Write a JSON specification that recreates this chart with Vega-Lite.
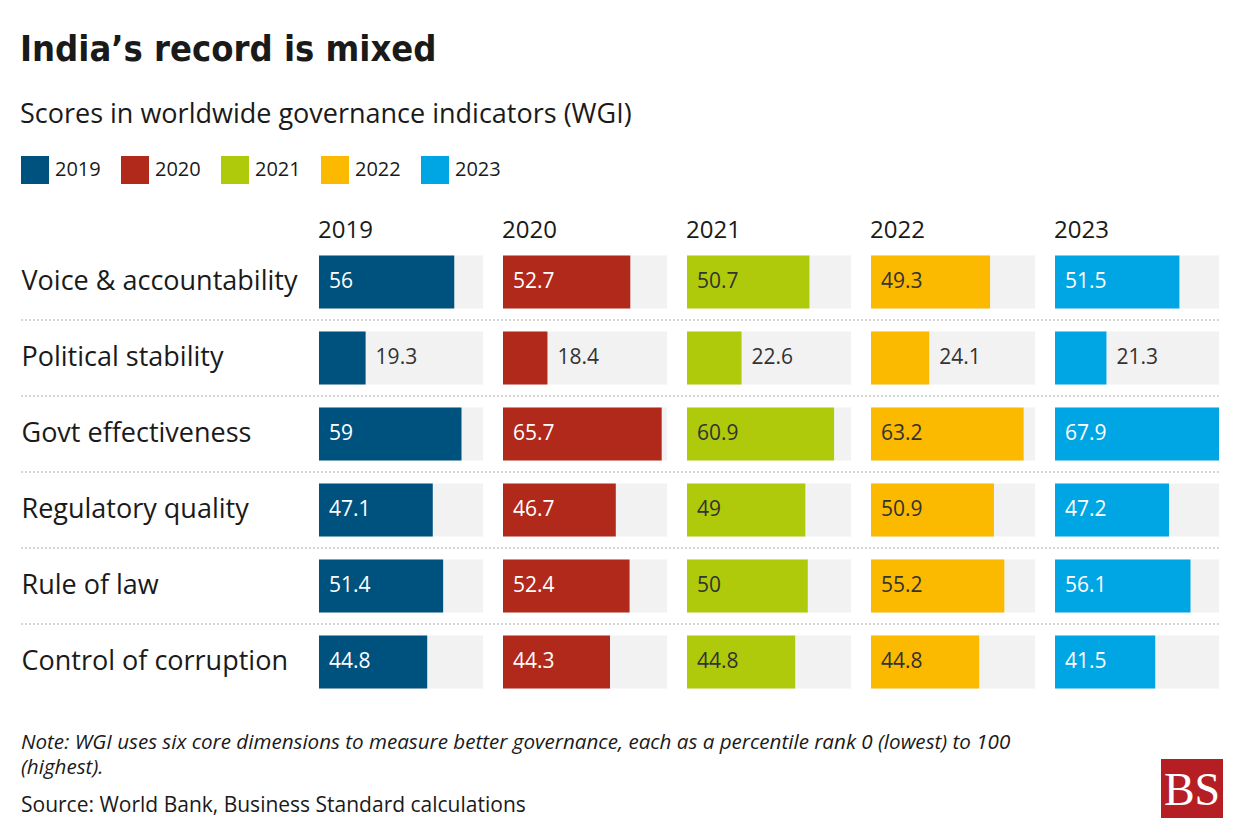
{
  "$schema": "https://vega.github.io/schema/vega-lite/v6.json",
  "padding": {"left": 20, "top": 32, "right": 0, "bottom": 10},
  "background": "white",
  "title": {
    "text": "India’s record is mixed",
    "subtitle": "Scores in worldwide governance indicators (WGI)",
    "anchor": "start",
    "font": "'DejaVu Sans Condensed', Roboto, sans-serif",
    "fontSize": 36,
    "fontWeight": "bold",
    "color": "#1a1a1a",
    "subtitleFont": "Open Sans",
    "subtitleFontSize": 27,
    "subtitleFontWeight": 500,
    "subtitleColor": "#1a1a1a",
    "subtitlePadding": 33,
    "offset": 27
  },
  "datasets": {
    "wgi": [
      {"indicator": "Voice & accountability", "year": "2019", "score": 56},
      {"indicator": "Voice & accountability", "year": "2020", "score": 52.7},
      {"indicator": "Voice & accountability", "year": "2021", "score": 50.7},
      {"indicator": "Voice & accountability", "year": "2022", "score": 49.3},
      {"indicator": "Voice & accountability", "year": "2023", "score": 51.5},
      {"indicator": "Political stability", "year": "2019", "score": 19.3},
      {"indicator": "Political stability", "year": "2020", "score": 18.4},
      {"indicator": "Political stability", "year": "2021", "score": 22.6},
      {"indicator": "Political stability", "year": "2022", "score": 24.1},
      {"indicator": "Political stability", "year": "2023", "score": 21.3},
      {"indicator": "Govt effectiveness", "year": "2019", "score": 59},
      {"indicator": "Govt effectiveness", "year": "2020", "score": 65.7},
      {"indicator": "Govt effectiveness", "year": "2021", "score": 60.9},
      {"indicator": "Govt effectiveness", "year": "2022", "score": 63.2},
      {"indicator": "Govt effectiveness", "year": "2023", "score": 67.9},
      {"indicator": "Regulatory quality", "year": "2019", "score": 47.1},
      {"indicator": "Regulatory quality", "year": "2020", "score": 46.7},
      {"indicator": "Regulatory quality", "year": "2021", "score": 49},
      {"indicator": "Regulatory quality", "year": "2022", "score": 50.9},
      {"indicator": "Regulatory quality", "year": "2023", "score": 47.2},
      {"indicator": "Rule of law", "year": "2019", "score": 51.4},
      {"indicator": "Rule of law", "year": "2020", "score": 52.4},
      {"indicator": "Rule of law", "year": "2021", "score": 50},
      {"indicator": "Rule of law", "year": "2022", "score": 55.2},
      {"indicator": "Rule of law", "year": "2023", "score": 56.1},
      {"indicator": "Control of corruption", "year": "2019", "score": 44.8},
      {"indicator": "Control of corruption", "year": "2020", "score": 44.3},
      {"indicator": "Control of corruption", "year": "2021", "score": 44.8},
      {"indicator": "Control of corruption", "year": "2022", "score": 44.8},
      {"indicator": "Control of corruption", "year": "2023", "score": 41.5}
    ]
  },
  "data": {"name": "wgi"},
  "spacing": 33,
  "vconcat": [
    {
      "hconcat": [
        {
          "width": 298, "height": 456,
          "transform": [{"filter": "datum.year == '2019' && datum.indicator != 'Voice & accountability'"}],
          "mark": {"type": "rule", "color": "#d6d6d6", "strokeWidth": 2, "strokeDash": [2, 2], "yOffset": -38},
          "encoding": {
            "y": {"field": "indicator", "type": "nominal",
              "scale": {"domain": ["Voice & accountability", "Political stability", "Govt effectiveness", "Regulatory quality", "Rule of law", "Control of corruption"], "paddingInner": 0.3, "paddingOuter": 0.15},
              "axis": {"orient": "left", "title": null, "ticks": false, "domain": false, "labelAlign": "left", "labelBaseline": "middle", "labelPadding": 0, "labelFontSize": 27, "labelLimit": 0, "labelColor": "#1a1a1a", "labelFont": "Open Sans"}}
          }
        },
        {
          "width": 184, "height": 456,
          "title": {"text": "2019"},
          "transform": [{"filter": "datum.year == '2019'"}],
          "encoding": {"y": {"field": "indicator", "type": "nominal", "scale": {"domain": ["Voice & accountability", "Political stability", "Govt effectiveness", "Regulatory quality", "Rule of law", "Control of corruption"], "paddingInner": 0.3, "paddingOuter": 0.15}, "axis": null}},
          "layer": [
            {"mark": {"type": "bar", "color": "#f2f2f2"}, "encoding": {"x": {"datum": 67.9, "type": "quantitative", "scale": {"domain": [0, 76.18], "nice": false}, "axis": null}}},
            {"mark": "bar", "encoding": {"x": {"field": "score", "type": "quantitative"}, "color": {"field": "year", "type": "nominal"}}},
            {"transform": [{"filter": "datum.indicator != 'Voice & accountability'"}], "mark": {"type": "rule", "color": "#d6d6d6", "strokeWidth": 2, "strokeDash": [2, 2], "yOffset": -38}, "encoding": {}},
            {"transform": [{"filter": "datum.score >= 30"}], "mark": {"type": "text", "align": "left", "baseline": "middle", "dx": 10, "fontSize": 21, "color": "white"}, "encoding": {"x": {"datum": 0}, "text": {"field": "score", "type": "quantitative"}}},
            {"transform": [{"filter": "datum.score < 30"}], "mark": {"type": "text", "align": "left", "baseline": "middle", "dx": 10, "fontSize": 21, "color": "#333333"}, "encoding": {"x": {"field": "score", "type": "quantitative"}, "text": {"field": "score", "type": "quantitative"}}}
          ]
        },
        {
          "width": 184, "height": 456,
          "title": {"text": "2020"},
          "transform": [{"filter": "datum.year == '2020'"}],
          "encoding": {"y": {"field": "indicator", "type": "nominal", "scale": {"domain": ["Voice & accountability", "Political stability", "Govt effectiveness", "Regulatory quality", "Rule of law", "Control of corruption"], "paddingInner": 0.3, "paddingOuter": 0.15}, "axis": null}},
          "layer": [
            {"mark": {"type": "bar", "color": "#f2f2f2"}, "encoding": {"x": {"datum": 67.9, "type": "quantitative", "scale": {"domain": [0, 76.18], "nice": false}, "axis": null}}},
            {"mark": "bar", "encoding": {"x": {"field": "score", "type": "quantitative"}, "color": {"field": "year", "type": "nominal"}}},
            {"transform": [{"filter": "datum.indicator != 'Voice & accountability'"}], "mark": {"type": "rule", "color": "#d6d6d6", "strokeWidth": 2, "strokeDash": [2, 2], "yOffset": -38}, "encoding": {}},
            {"transform": [{"filter": "datum.score >= 30"}], "mark": {"type": "text", "align": "left", "baseline": "middle", "dx": 10, "fontSize": 21, "color": "white"}, "encoding": {"x": {"datum": 0}, "text": {"field": "score", "type": "quantitative"}}},
            {"transform": [{"filter": "datum.score < 30"}], "mark": {"type": "text", "align": "left", "baseline": "middle", "dx": 10, "fontSize": 21, "color": "#333333"}, "encoding": {"x": {"field": "score", "type": "quantitative"}, "text": {"field": "score", "type": "quantitative"}}}
          ]
        },
        {
          "width": 184, "height": 456,
          "title": {"text": "2021"},
          "transform": [{"filter": "datum.year == '2021'"}],
          "encoding": {"y": {"field": "indicator", "type": "nominal", "scale": {"domain": ["Voice & accountability", "Political stability", "Govt effectiveness", "Regulatory quality", "Rule of law", "Control of corruption"], "paddingInner": 0.3, "paddingOuter": 0.15}, "axis": null}},
          "layer": [
            {"mark": {"type": "bar", "color": "#f2f2f2"}, "encoding": {"x": {"datum": 67.9, "type": "quantitative", "scale": {"domain": [0, 76.18], "nice": false}, "axis": null}}},
            {"mark": "bar", "encoding": {"x": {"field": "score", "type": "quantitative"}, "color": {"field": "year", "type": "nominal"}}},
            {"transform": [{"filter": "datum.indicator != 'Voice & accountability'"}], "mark": {"type": "rule", "color": "#d6d6d6", "strokeWidth": 2, "strokeDash": [2, 2], "yOffset": -38}, "encoding": {}},
            {"transform": [{"filter": "datum.score >= 30"}], "mark": {"type": "text", "align": "left", "baseline": "middle", "dx": 10, "fontSize": 21, "color": "#333333"}, "encoding": {"x": {"datum": 0}, "text": {"field": "score", "type": "quantitative"}}},
            {"transform": [{"filter": "datum.score < 30"}], "mark": {"type": "text", "align": "left", "baseline": "middle", "dx": 10, "fontSize": 21, "color": "#333333"}, "encoding": {"x": {"field": "score", "type": "quantitative"}, "text": {"field": "score", "type": "quantitative"}}}
          ]
        },
        {
          "width": 184, "height": 456,
          "title": {"text": "2022"},
          "transform": [{"filter": "datum.year == '2022'"}],
          "encoding": {"y": {"field": "indicator", "type": "nominal", "scale": {"domain": ["Voice & accountability", "Political stability", "Govt effectiveness", "Regulatory quality", "Rule of law", "Control of corruption"], "paddingInner": 0.3, "paddingOuter": 0.15}, "axis": null}},
          "layer": [
            {"mark": {"type": "bar", "color": "#f2f2f2"}, "encoding": {"x": {"datum": 67.9, "type": "quantitative", "scale": {"domain": [0, 76.18], "nice": false}, "axis": null}}},
            {"mark": "bar", "encoding": {"x": {"field": "score", "type": "quantitative"}, "color": {"field": "year", "type": "nominal"}}},
            {"transform": [{"filter": "datum.indicator != 'Voice & accountability'"}], "mark": {"type": "rule", "color": "#d6d6d6", "strokeWidth": 2, "strokeDash": [2, 2], "yOffset": -38}, "encoding": {}},
            {"transform": [{"filter": "datum.score >= 30"}], "mark": {"type": "text", "align": "left", "baseline": "middle", "dx": 10, "fontSize": 21, "color": "#333333"}, "encoding": {"x": {"datum": 0}, "text": {"field": "score", "type": "quantitative"}}},
            {"transform": [{"filter": "datum.score < 30"}], "mark": {"type": "text", "align": "left", "baseline": "middle", "dx": 10, "fontSize": 21, "color": "#333333"}, "encoding": {"x": {"field": "score", "type": "quantitative"}, "text": {"field": "score", "type": "quantitative"}}}
          ]
        },
        {
          "width": 164, "height": 456,
          "title": {"text": "2023"},
          "transform": [{"filter": "datum.year == '2023'"}],
          "encoding": {"y": {"field": "indicator", "type": "nominal", "scale": {"domain": ["Voice & accountability", "Political stability", "Govt effectiveness", "Regulatory quality", "Rule of law", "Control of corruption"], "paddingInner": 0.3, "paddingOuter": 0.15}, "axis": null}},
          "layer": [
            {"mark": {"type": "bar", "color": "#f2f2f2"}, "encoding": {"x": {"datum": 67.9, "type": "quantitative", "scale": {"domain": [0, 67.9], "nice": false}, "axis": null}}},
            {"mark": "bar", "encoding": {"x": {"field": "score", "type": "quantitative"}, "color": {"field": "year", "type": "nominal"}}},
            {"transform": [{"filter": "datum.indicator != 'Voice & accountability'"}], "mark": {"type": "rule", "color": "#d6d6d6", "strokeWidth": 2, "strokeDash": [2, 2], "yOffset": -38}, "encoding": {}},
            {"transform": [{"filter": "datum.score >= 30"}], "mark": {"type": "text", "align": "left", "baseline": "middle", "dx": 10, "fontSize": 21, "color": "white"}, "encoding": {"x": {"datum": 0}, "text": {"field": "score", "type": "quantitative"}}},
            {"transform": [{"filter": "datum.score < 30"}], "mark": {"type": "text", "align": "left", "baseline": "middle", "dx": 10, "fontSize": 21, "color": "#333333"}, "encoding": {"x": {"field": "score", "type": "quantitative"}, "text": {"field": "score", "type": "quantitative"}}}
          ]
        }
      ],
      "spacing": 0,
      "bounds": "flush",
      "resolve": {"scale": {"x": "independent", "y": "independent"}}
    },
    {
      "hconcat": [
        {
          "width": 1140, "height": 59,
          "data": {"values": []},
          "mark": "text",
          "title": {
            "text": ["Note: WGI uses six core dimensions to measure better governance, each as a percentile rank 0 (lowest) to 100", "(highest)."],
            "subtitle": "Source: World Bank, Business Standard calculations",
            "anchor": "start", "orient": "top", "offset": -57,
            "font": "Open Sans", "fontSize": 20.6, "fontStyle": "italic", "fontWeight": "normal", "lineHeight": 25, "color": "#1a1a1a",
            "subtitleFont": "Open Sans", "subtitleFontSize": 21, "subtitleColor": "#1a1a1a", "subtitlePadding": 16
          }
        },
        {
          "width": 62, "height": 59,
          "view": {"fill": "#b51f24", "stroke": null},
          "data": {"values": [{"logo": "BS"}]},
          "mark": {"type": "text", "font": "Liberation Serif", "fontSize": 46, "color": "white", "align": "center", "baseline": "middle", "dy": 2},
          "encoding": {"text": {"field": "logo", "type": "nominal"}}
        }
      ],
      "spacing": 0,
      "bounds": "flush"
    }
  ],
  "resolve": {"scale": {"color": "shared"}},
  "config": {
    "font": "Open Sans",
    "view": {"stroke": null},
    "title": {"anchor": "start", "fontSize": 24, "fontWeight": "normal", "color": "#1a1a1a", "offset": 1, "font": "Open Sans"},
    "scale": {"bandPaddingInner": 0.3, "bandPaddingOuter": 0.15},
    "range": {"category": ["#00527e", "#b0291b", "#afca0b", "#fbb900", "#00a5e3"]},
    "legend": {
      "orient": "top", "direction": "horizontal", "title": null,
      "symbolType": "square", "symbolSize": 784, "symbolStrokeWidth": 0, "symbolOpacity": 1,
      "labelFontSize": 20, "labelColor": "#1a1a1a", "labelFont": "Open Sans", "labelOffset": 6,
      "columnPadding": 20, "offset": 35, "padding": 0
    }
  }
}
